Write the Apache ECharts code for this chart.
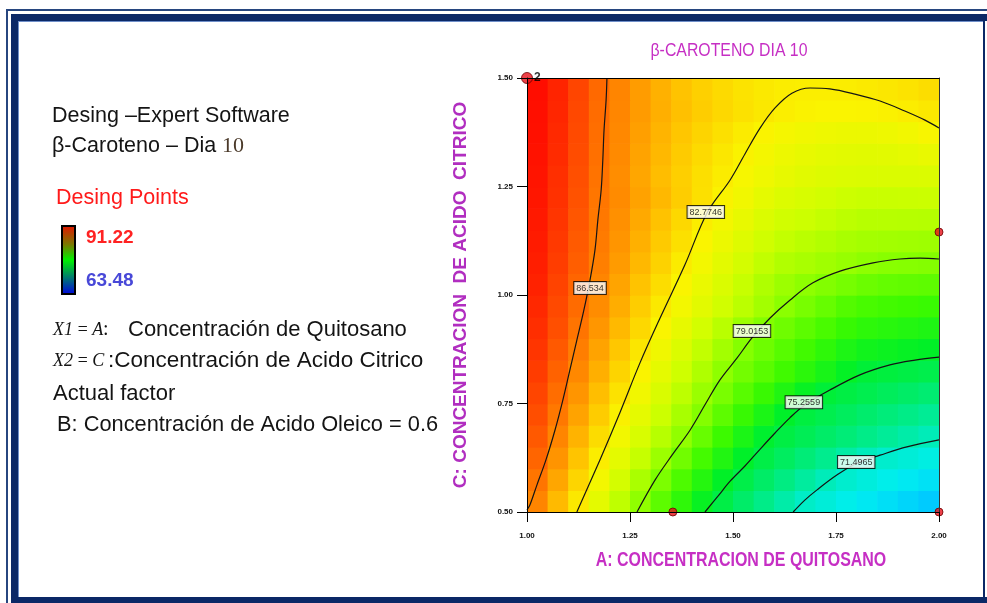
<!DOCTYPE html>
<html>
<head>
<meta charset="utf-8">
<script src="https://cdn.jsdelivr.net/npm/echarts@6/dist/echarts.min.js"></script>
<style>
  html, body { margin: 0; padding: 0; background: #ffffff; }
  #chart { width: 987px; height: 603px; }
</style>
</head>
<body>
<div id="chart"></div>
<script>
// Cell centres of the response grid (A: quitosano, C: acido citrico)
const quitosano = [1.025, 1.075, 1.125, 1.175, 1.225, 1.275, 1.325, 1.375, 1.425, 1.475,
                   1.525, 1.575, 1.625, 1.675, 1.725, 1.775, 1.825, 1.875, 1.925, 1.975];
const acidoCitrico = [0.525, 0.575, 0.625, 0.675, 0.725, 0.775, 0.825, 0.875, 0.925, 0.975,
                      1.025, 1.075, 1.125, 1.175, 1.225, 1.275, 1.325, 1.375, 1.425, 1.475];

// beta-caroteno (dia 10) predicted on the grid, one row per acidoCitrico value
const betaCaroteno = [
  [86.07, 84.54, 83.01, 81.71, 80.45, 79.19, 78.07, 76.96, 75.86, 74.87, 74.03, 73.19, 72.34, 71.50, 71.05, 70.61, 70.16, 69.72, 69.27, 68.82],
  [86.59, 85.12, 83.65, 82.29, 81.08, 79.88, 78.73, 77.71, 76.68, 75.65, 74.80, 74.07, 73.34, 72.60, 71.87, 71.31, 70.94, 70.57, 70.20, 69.83],
  [87.10, 85.65, 84.24, 82.83, 81.71, 80.62, 79.52, 78.50, 77.53, 76.56, 75.59, 74.86, 74.25, 73.64, 73.03, 72.42, 71.81, 71.36, 71.08, 70.80],
  [87.48, 86.08, 84.74, 83.41, 82.24, 81.23, 80.22, 79.21, 78.28, 77.34, 76.41, 75.48, 74.93, 74.50, 74.06, 73.63, 73.20, 72.76, 72.33, 71.90],
  [87.83, 86.48, 85.22, 83.96, 82.71, 81.75, 80.79, 79.83, 78.90, 78.07, 77.24, 76.41, 75.58, 75.03, 74.67, 74.30, 73.94, 73.57, 73.21, 72.84],
  [88.15, 86.84, 85.62, 84.42, 83.22, 82.20, 81.29, 80.38, 79.47, 78.67, 77.96, 77.25, 76.55, 75.84, 75.21, 74.93, 74.64, 74.36, 74.08, 73.79],
  [88.43, 87.20, 86.00, 84.86, 83.71, 82.61, 81.75, 80.88, 80.02, 79.15, 78.55, 77.99, 77.43, 76.87, 76.30, 75.74, 75.24, 75.06, 74.89, 74.72],
  [88.69, 87.48, 86.29, 85.22, 84.15, 83.07, 82.18, 81.35, 80.53, 79.70, 78.94, 78.44, 77.94, 77.45, 76.95, 76.45, 76.12, 75.96, 75.80, 75.64],
  [88.92, 87.77, 86.62, 85.59, 84.57, 83.55, 82.59, 81.82, 81.05, 80.28, 79.52, 78.88, 78.46, 78.04, 77.63, 77.21, 76.92, 76.77, 76.62, 76.47],
  [89.14, 88.01, 86.89, 85.87, 84.91, 83.95, 82.98, 82.27, 81.63, 80.99, 80.34, 79.70, 79.06, 78.65, 78.25, 77.85, 77.60, 77.49, 77.38, 77.27],
  [89.34, 88.21, 87.09, 86.08, 85.18, 84.28, 83.38, 82.57, 81.93, 81.30, 80.66, 80.03, 79.51, 79.14, 78.86, 78.61, 78.37, 78.22, 78.15, 78.08],
  [89.50, 88.40, 87.30, 86.28, 85.43, 84.59, 83.75, 82.90, 82.27, 81.68, 81.09, 80.50, 80.08, 79.85, 79.61, 79.38, 79.14, 79.00, 78.95, 78.90],
  [89.65, 88.55, 87.45, 86.40, 85.62, 84.84, 84.05, 83.27, 82.57, 82.02, 81.47, 80.92, 80.54, 80.31, 80.09, 79.86, 79.72, 79.67, 79.62, 79.57],
  [89.79, 88.68, 87.57, 86.49, 85.76, 85.03, 84.30, 83.57, 82.84, 82.33, 81.84, 81.35, 80.99, 80.78, 80.57, 80.36, 80.24, 80.22, 80.20, 80.17],
  [89.94, 88.82, 87.70, 86.57, 85.90, 85.25, 84.59, 83.94, 83.28, 82.67, 82.20, 81.73, 81.40, 81.20, 81.00, 80.80, 80.70, 80.72, 80.74, 80.76],
  [90.04, 88.91, 87.79, 86.66, 85.84, 85.12, 84.46, 83.87, 83.33, 82.86, 82.45, 82.11, 81.82, 81.60, 81.44, 81.34, 81.30, 81.31, 81.33, 81.37],
  [90.18, 89.03, 87.88, 86.74, 85.92, 85.22, 84.59, 84.01, 83.50, 83.05, 82.66, 82.33, 82.06, 81.86, 81.71, 81.62, 81.60, 81.64, 81.74, 81.91],
  [90.27, 89.12, 87.96, 86.81, 85.98, 85.32, 84.72, 84.18, 83.69, 83.27, 82.91, 82.61, 82.37, 82.19, 82.07, 82.01, 82.01, 82.09, 82.25, 82.49],
  [90.37, 89.20, 88.03, 86.86, 86.04, 85.43, 84.87, 84.37, 83.94, 83.56, 83.25, 82.99, 82.80, 82.67, 82.59, 82.58, 82.62, 82.70, 82.82, 82.99],
  [90.46, 89.29, 88.12, 86.95, 86.07, 85.40, 84.80, 84.29, 83.85, 83.48, 83.19, 82.98, 82.84, 82.78, 82.79, 82.83, 82.92, 83.04, 83.19, 83.39]
];

// Axis ticks
const ticksA = [1.00, 1.25, 1.50, 1.75, 2.00];
const ticksC = [0.50, 0.75, 1.00, 1.25, 1.50];

// Range of the design points (colour scale)
const rangoDiseno = [63.48, 91.22];

// Contour levels and traced iso-lines [A, C]
const nivelesContorno = [86.534, 82.7746, 79.0153, 75.2559, 71.4965];
const contorno86 = [[1.000, 0.505], [1.007, 0.516], [1.024, 0.562], [1.046, 0.620], [1.068, 0.689], [1.087, 0.758],
  [1.104, 0.827], [1.121, 0.896], [1.138, 0.965], [1.153, 1.035], [1.165, 1.104], [1.172, 1.173],
  [1.180, 1.242], [1.184, 1.311], [1.187, 1.380], [1.192, 1.449], [1.194, 1.500]];
const contorno82 = [[1.121, 0.500], [1.177, 0.620], [1.226, 0.730], [1.274, 0.843], [1.323, 0.947], [1.383, 1.069],
  [1.437, 1.189], [1.493, 1.265], [1.529, 1.325], [1.566, 1.385], [1.602, 1.431], [1.643, 1.465],
  [1.687, 1.477], [1.735, 1.475], [1.796, 1.463], [1.857, 1.447], [1.917, 1.424], [1.966, 1.403], [2.000, 1.385]];
const contorno79 = [[1.267, 0.500], [1.311, 0.574], [1.352, 0.631], [1.396, 0.689], [1.432, 0.747], [1.468, 0.804],
  [1.510, 0.855], [1.546, 0.901], [1.590, 0.947], [1.638, 0.988], [1.694, 1.028], [1.760, 1.055],
  [1.840, 1.074], [1.905, 1.083], [1.954, 1.085], [2.000, 1.083]];
const contorno75 = [[1.432, 0.500], [1.464, 0.537], [1.493, 0.571], [1.529, 0.606], [1.566, 0.645], [1.602, 0.682],
  [1.638, 0.717], [1.675, 0.747], [1.735, 0.781], [1.808, 0.816], [1.881, 0.839], [1.942, 0.850], [2.000, 0.857]];
const contorno71 = [[1.646, 0.500], [1.675, 0.528], [1.704, 0.551], [1.752, 0.585], [1.801, 0.613], [1.857, 0.631],
  [1.922, 0.650], [2.000, 0.666]];
// Where each level is tagged on its line
const posEtiquetas = [[1.153, 1.016], [1.434, 1.191], [1.546, 0.917], [1.672, 0.753], [1.799, 0.615]];

// Design points and their replicate counts
const puntosDiseno = [[1.000, 1.500], [2.000, 1.145], [1.354, 0.500], [2.000, 0.500]];
const replicas = [2, 1, 1, 1];

// ---------------------------------------------------------------------------
const celdas = [];
betaCaroteno.forEach(function (fila, j) {
  fila.forEach(function (v, i) { celdas.push([quitosano[i], acidoCitrico[j], v]); });
});
const medioA = (quitosano[1] - quitosano[0]) / 2;
const medioC = (acidoCitrico[1] - acidoCitrico[0]) / 2;

const magenta = '#c62fc4';
const sans = '"Liberation Sans", Arial, sans-serif';
const serif = '"Liberation Serif", "Times New Roman", serif';
const ink = '#141414';

const etiquetaEje = { fontSize: 8, fontWeight: 'bold', color: '#111', fontFamily: sans };

function lineaContorno(datos) {
  return {
    type: 'line', data: datos, smooth: 0.35, symbol: 'none', clip: true, z: 4,
    lineStyle: { color: '#141414', width: 1.2 }, silent: true
  };
}

function texto(x, y, t, font, fill, extra) {
  return Object.assign({ type: 'text', x: x, y: y,
    style: { text: t, font: font, fill: fill, verticalAlign: 'middle' } }, extra || {});
}

const navy = '#0b2866';
const navyThin = '#27467f';

const chart = echarts.init(document.getElementById('chart'));
chart.setOption({
  animation: false,
  backgroundColor: '#ffffff',
  grid: { left: 527, top: 78, width: 412, height: 434, containLabel: false },
  visualMap: {
    show: false, type: 'continuous', seriesIndex: 0, dimension: 2,
    min: rangoDiseno[0], max: rangoDiseno[1],
    inRange: { color: [
      '#0000ff', '#0046ff', '#008cff', '#00c8ff', '#00eef0', '#00ecaf', '#00ec6e', '#00f028', '#3cfa00',
      '#8cff00', '#cdff00', '#faf500', '#ffc300', '#ff8700', '#ff5000', '#ff1e00', '#ff0000'] }
  },
  xAxis: [{
    type: 'value', position: 'bottom', z: 10,
    min: ticksA[0], max: ticksA[ticksA.length - 1], interval: ticksA[1] - ticksA[0],
    axisLine: { show: true, onZero: false, lineStyle: { color: '#000', width: 1 } },
    axisTick: { show: true, length: 10, lineStyle: { color: '#000' } },
    axisLabel: Object.assign({ margin: 20, formatter: function (v) { return v.toFixed(2); } }, etiquetaEje),
    splitLine: { show: false }
  }, {
    type: 'value', position: 'top', z: 10,
    min: ticksA[0], max: ticksA[ticksA.length - 1],
    axisLine: { show: true, onZero: false, lineStyle: { color: '#000', width: 1 } },
    axisTick: { show: false }, axisLabel: { show: false }, splitLine: { show: false }
  }],
  yAxis: [{
    type: 'value', position: 'left', z: 10,
    min: ticksC[0], max: ticksC[ticksC.length - 1], interval: ticksC[1] - ticksC[0],
    axisLine: { show: true, onZero: false, lineStyle: { color: '#000', width: 1 } },
    axisTick: { show: true, length: 10, lineStyle: { color: '#000' } },
    axisLabel: Object.assign({ margin: 14, formatter: function (v) { return v.toFixed(2); } }, etiquetaEje),
    splitLine: { show: false },
    name: 'C: CONCENTRACION  DE ACIDO  CITRICO', nameLocation: 'middle', nameGap: 57,
    nameTextStyle: { color: '#b12ec0', fontSize: 19, fontWeight: 'bold', fontFamily: sans }
  }, {
    type: 'value', position: 'right', z: 10,
    min: ticksC[0], max: ticksC[ticksC.length - 1],
    axisLine: { show: true, onZero: false, lineStyle: { color: '#333', width: 1 } },
    axisTick: { show: false }, axisLabel: { show: false }, splitLine: { show: false }
  }],
  series: [
    {
      type: 'custom', name: 'β-Caroteno', data: celdas, clip: true, z: 2, silent: true,
      encode: { x: 0, y: 1 },
      renderItem: function (params, api) {
        const a = api.value(0), c = api.value(1);
        const p0 = api.coord([a - medioA, c + medioC]);
        const p1 = api.coord([a + medioA, c - medioC]);
        return {
          type: 'rect',
          shape: { x: p0[0], y: p0[1], width: p1[0] - p0[0] + 0.7, height: p1[1] - p0[1] + 0.7 },
          style: { fill: api.visual('color') }
        };
      }
    },
    lineaContorno(contorno86),
    lineaContorno(contorno82),
    lineaContorno(contorno79),
    lineaContorno(contorno75),
    lineaContorno(contorno71),
    {
      type: 'scatter', z: 6, silent: true, symbolSize: 0,
      data: posEtiquetas.map(function (p, k) { return [p[0], p[1], nivelesContorno[k]]; }),
      label: {
        show: true, position: 'inside', formatter: function (p) { return String(p.value[2]); },
        fontSize: 9, fontFamily: sans, color: '#000',
        backgroundColor: '#ffffff', borderColor: '#000', borderWidth: 1, padding: [2, 2, 1, 2]
      }
    },
    {
      type: 'scatter', z: 8, clip: false, silent: true,
      data: puntosDiseno.map(function (p, k) { return [p[0], p[1], replicas[k]]; }),
      symbol: 'circle',
      symbolSize: function (v) { return v[2] > 1 ? 11 : 8; },
      itemStyle: { color: '#e8101a', borderColor: '#6a0000', borderWidth: 1 },
      label: {
        show: true, position: 'right', distance: 1,
        formatter: function (p) { return p.value[2] > 1 ? String(p.value[2]) : ''; },
        fontSize: 12, fontWeight: 'bold', color: '#000', fontFamily: sans
      }
    }
  ],
  graphic: [
    // double frame
    { type: 'rect', shape: { x: 6, y: 9, width: 981, height: 2 }, style: { fill: navyThin } },
    { type: 'rect', shape: { x: 6, y: 9, width: 2, height: 594 }, style: { fill: navyThin } },
    { type: 'rect', shape: { x: 11, y: 14, width: 976, height: 7 }, style: { fill: navy } },
    { type: 'rect', shape: { x: 11, y: 14, width: 7, height: 589 }, style: { fill: navy } },
    { type: 'rect', shape: { x: 11, y: 597, width: 976, height: 6 }, style: { fill: navy } },
    { type: 'rect', shape: { x: 983, y: 14, width: 2, height: 589 }, style: { fill: navy } },
    { type: 'rect', shape: { x: 18, y: 21, width: 1, height: 576 }, style: { fill: '#6f8fc9' } },
    { type: 'rect', shape: { x: 18, y: 21, width: 965, height: 1 }, style: { fill: '#6f8fc9' } },

    // chart title and horizontal axis title (condensed lettering)
    { type: 'text', x: 729, y: 51, scaleX: 0.88,
      style: { text: 'β-CAROTENO DIA 10', font: '18px ' + sans, fill: magenta, align: 'center', verticalAlign: 'middle' } },
    { type: 'text', x: 741, y: 560, scaleX: 0.76,
      style: { text: 'A: CONCENTRACION DE QUITOSANO', font: 'bold 21px ' + sans, fill: magenta, align: 'center', verticalAlign: 'middle' } },

    // side notes
    texto(52, 116, 'Desing –Expert Software', '21.5px ' + sans, ink),
    { type: 'text', x: 52, y: 146, style: {
      text: '{a|β-Caroteno – Dia }{b|10}', verticalAlign: 'middle',
      rich: { a: { font: '21.5px ' + sans, fill: ink }, b: { font: '22px ' + serif, fill: '#4b3a2a' } }
    } },
    texto(56, 198, 'Desing Points', '21.5px ' + sans, '#ff1a1a'),
    { type: 'rect', shape: { x: 62, y: 226, width: 13, height: 68 },
      style: {
        stroke: '#000', lineWidth: 2,
        fill: new echarts.graphic.LinearGradient(0, 0, 0, 1, [
          { offset: 0, color: '#e41200' }, { offset: 0.28, color: '#7a7a00' },
          { offset: 0.5, color: '#00f000' }, { offset: 0.75, color: '#007a70' },
          { offset: 1, color: '#0000e0' }])
      } },
    texto(86, 238, rangoDiseno[1].toFixed(2), 'bold 19px ' + sans, '#ff2222'),
    texto(86, 281, rangoDiseno[0].toFixed(2), 'bold 19px ' + sans, '#4848d8'),
    texto(53, 330, 'X1\u2009=\u2009A', 'italic 18px ' + serif, ink),
    texto(103, 330, ':', '20px ' + serif, ink),
    texto(128, 330, 'Concentración de Quitosano', '22px ' + sans, ink),
    texto(53, 361, 'X2\u2009=\u2009C', 'italic 18px ' + serif, ink),
    texto(108, 361, ':Concentración de Acido Citrico', '22.5px ' + sans, ink),
    texto(53, 394, 'Actual factor', '22px ' + sans, ink),
    texto(57, 425, 'B: Concentración de Acido Oleico = 0.6', '21.8px ' + sans, ink)
  ]
});
</script>
</body>
</html>
